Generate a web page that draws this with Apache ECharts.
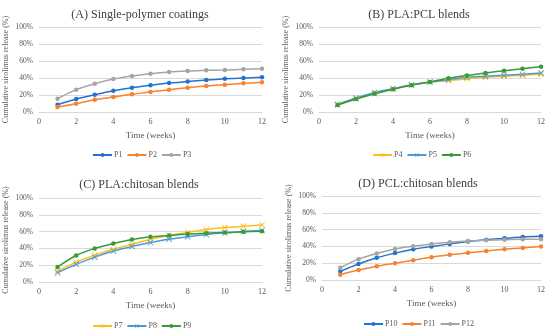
<!DOCTYPE html>
<html><head><meta charset="utf-8">
<script src="https://cdn.jsdelivr.net/npm/echarts@6/dist/echarts.min.js"></script>
<style>html,body{margin:0;padding:0;background:#fff}#c{width:550px;height:335px}</style>
</head><body><div id="c"></div>
<script>
const weeks = [1,2,3,4,5,6,7,8,9,10,11,12];
const xTicks = [0,2,4,6,8,10,12];
const yTicks = [0,20,40,60,80,100];
const titles = ['(A) Single-polymer coatings','(B) PLA:PCL blends','(C) PLA:chitosan blends','(D) PCL:chitosan blends'];
const P1 = [8.6,15.3,20.4,25,28.6,31.4,34,36,37.6,39,40,41];
const P2 = [5.9,9.8,14.5,17.6,20.8,23.5,26.3,28.6,30.6,32.2,33.7,34.9];
const P3 = [15.7,26.3,33.3,38.8,42.4,45,47,48.2,49,49.4,50.2,51];
const P4 = [8.2,15.2,21.4,27,31.5,35,37,39,41,42,43.2,44.4];
const P5 = [9,16.5,23,27.5,32,35.4,38,41,42,43.2,44.4,46];
const P6 = [8.2,15.2,21.4,26.8,31.5,35.4,39.7,43,46,48.6,51,53.3];
const P7 = [13,23.7,32,39,44.7,51,55.7,59,62.5,64.8,66.4,68];
const P8 = [11,21,29.6,36.8,42.3,47,51,53.8,56.5,58.5,60,61.3];
const P9 = [18,31.6,40,45.8,50.6,53.8,55.3,57,58,59,59.7,60.5];
const P10 = [10.2,19,26.4,32,36.6,39.8,43,45.7,48,49.6,51.2,52];
const P11 = [6.3,11.8,16.5,20,23.6,27.2,30,32.3,34.6,36.6,38.2,39.8];
const P12 = [14.6,24.8,31.5,37,40.2,43,45,46.5,47.2,48,48.4,48.4];

const FONT = 'Liberation Serif';
const GRAY = '#595959';
const X = 'path://M0,1L1,0L5,4L9,0L10,1L6,5L10,9L9,10L5,6L1,10L0,9L4,5Z';
const panels = [
  {grid:{left:39,right:288,top:27,bottom:223}, title:[135,4], legend:[92,151],
   series:[['P1',P1,'#2472CF','circle'],['P2',P2,'#F7822F','circle'],['P3',P3,'#A5A5A5','circle']]},
  {grid:{left:319,right:9,top:27,bottom:223}, title:[414,4], legend:[372,151],
   series:[['P4',P4,'#FFBE1A',X],['P5',P5,'#4A9AD9',X],['P6',P6,'#3A9A3A','circle']]},
  {grid:{left:39,right:288,top:198,bottom:53}, title:[134,174], legend:[92,322],
   series:[['P7',P7,'#FFBE1A',X],['P8',P8,'#4A9AD9',X],['P9',P9,'#3A9A3A','circle']]},
  {grid:{left:322,right:9,top:196,bottom:55}, title:[413,173], legend:[363,320],
   series:[['P10',P10,'#2472CF','circle'],['P11',P11,'#F7822F','circle'],['P12',P12,'#A5A5A5','circle']]}
];

const option = {animation:false, backgroundColor:'#fff', title:[], grid:[], xAxis:[], yAxis:[], legend:[], series:[]};
panels.forEach((p,i)=>{
  option.title.push({text:titles[i], left:p.title[0], top:p.title[1], textAlign:'center',
    textStyle:{fontFamily:FONT, fontSize:12, fontWeight:'normal', color:'#404040'}});
  option.grid.push(Object.assign({containLabel:false}, p.grid));
  option.xAxis.push({type:'value', gridIndex:i, min:xTicks[0], max:xTicks[xTicks.length-1], interval:2,
    name:'Time (weeks)', nameLocation:'middle', nameGap:19,
    nameTextStyle:{fontFamily:FONT, fontSize:9, color:GRAY},
    axisLine:{lineStyle:{color:'#D9D9D9'}}, axisTick:{show:false}, splitLine:{show:false},
    axisLabel:{fontFamily:FONT, fontSize:8, color:GRAY, margin:6}});
  option.yAxis.push({type:'value', gridIndex:i, min:yTicks[0], max:yTicks[yTicks.length-1], interval:20,
    name:'Cumulative sirolimus release (%)', nameLocation:'middle', nameGap:29,
    nameTextStyle:{fontFamily:FONT, fontSize:8, color:GRAY},
    axisLine:{show:false}, axisTick:{show:false},
    splitLine:{lineStyle:{color:'#D9D9D9', width:1}},
    axisLabel:{fontFamily:FONT, fontSize:7.5, color:GRAY, margin:6, formatter:'{value}%'}});
  option.legend.push({data:p.series.map(s=>s[0]), left:p.legend[0], top:p.legend[1], orient:'horizontal',
    itemWidth:19, itemHeight:5, itemGap:4, padding:0, width:200,
    textStyle:{fontFamily:FONT, fontSize:8, color:GRAY, padding:[0,0,0,-3]}});
  p.series.forEach(s=>{
    option.series.push({name:s[0], type:'line', xAxisIndex:i, yAxisIndex:i, smooth:0.3,
      data: weeks.map((w,k)=>[w,s[1][k]]), symbol:s[3], symbolSize: s[3]==='circle'?4.5:6,
      lineStyle:{color:s[2], width:1.5},
      itemStyle:{color:s[2], borderColor:s[2], borderWidth:0}});
  });
});
const ch = echarts.init(document.getElementById('c'), null, {renderer:'canvas'});
ch.setOption(option);
</script></body></html>
